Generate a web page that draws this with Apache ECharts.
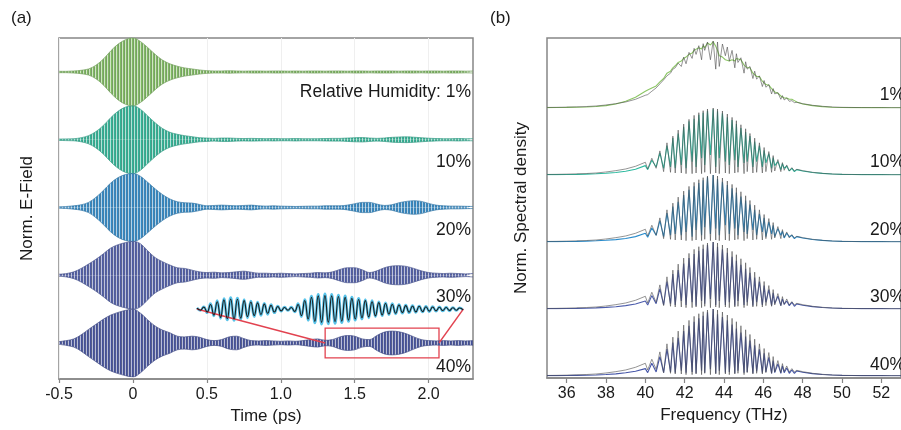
<!DOCTYPE html>
<html>
<head>
<meta charset="utf-8">
<script src="https://cdn.jsdelivr.net/npm/echarts@6/dist/echarts.min.js"></script>
<style>
html,body{margin:0;padding:0;background:#fff}
#chart{width:901px;height:430px}
</style>
</head>
<body>
<div id="chart"></div>
<script>
// ---------- Panel (a): THz E-field envelopes versus time ----------
const humidityLabels = ['Relative Humidity: 1%', '10%', '20%', '30%', '40%'];
const spectrumLabels = ['1%', '10%', '20%', '30%', '40%'];

const timeTicks = [-0.5, 0, 0.5, 1, 1.5, 2];
const timeTickLabels = ['-0.5', '0', '0.5', '1.0', '1.5', '2.0'];

const timePs = [
  -0.5, -0.45, -0.4, -0.35, -0.3, -0.25, -0.2, -0.15, -0.1, -0.05,
  0, 0.05, 0.1, 0.15, 0.2, 0.25, 0.3, 0.35, 0.4, 0.45,
  0.5, 0.55, 0.6, 0.65, 0.7, 0.75, 0.8, 0.85, 0.9, 0.95,
  1, 1.05, 1.1, 1.15, 1.2, 1.25, 1.3, 1.35, 1.4, 1.45,
  1.5, 1.55, 1.6, 1.65, 1.7, 1.75, 1.8, 1.85, 1.9, 1.95,
  2, 2.05, 2.1, 2.15, 2.2, 2.25, 2.3
];

// normalised oscillation envelope (peak amplitude) of each field trace
const envelopeRH1 = [
  .02, .02, .03, .05, .09, .2, .38, .62, .82, .95,
  1.0, .9, .72, .52, .35, .24, .17, .12, .09, .06,
  .04, .03, .03, .035, .03, .025, .03, .03, .025, .03,
  .03, .025, .03, .025, .03, .03, .025, .03, .03, .025,
  .03, .03, .025, .03, .03, .03, .025, .03, .03, .025,
  .03, .03, .025, .03, .03, .025, .03
];
const envelopeRH10 = [
  .02, .025, .03, .06, .12, .24, .42, .65, .84, .96,
  1.0, .9, .7, .5, .33, .22, .16, .12, .09, .06,
  .05, .04, .05, .05, .04, .035, .04, .035, .03, .035,
  .03, .03, .035, .03, .03, .03, .035, .04, .04, .05,
  .06, .065, .05, .04, .05, .07, .08, .085, .075, .06,
  .045, .035, .03, .03, .035, .03, .03
];
const envelopeRH20 = [
  .02, .03, .05, .08, .15, .3, .5, .72, .88, .97,
  1.0, .92, .74, .55, .38, .25, .17, .14, .13, .09,
  .05, .06, .07, .06, .05, .06, .07, .05, .04, .05,
  .04, .035, .03, .035, .04, .04, .05, .05, .05, .07,
  .11, .15, .15, .1, .06, .08, .14, .18, .2, .18,
  .12, .07, .05, .04, .04, .035, .03
];
const envelopeRH30 = [
  .03, .05, .1, .2, .33, .47, .63, .8, .9, .96,
  1.0, .93, .72, .52, .4, .3, .22, .2, .15, .1,
  .08, .09, .07, .08, .1, .12, .09, .06, .06, .05,
  .06, .05, .04, .05, .06, .08, .07, .1, .17, .22,
  .22, .16, .08, .13, .22, .27, .28, .26, .2, .13,
  .08, .06, .05, .06, .05, .04, .05
];
const envelopeRH40 = [
  .04, .07, .12, .24, .4, .55, .7, .82, .9, .96,
  1.0, .88, .68, .5, .38, .3, .2, .18, .2, .17,
  .1, .07, .1, .18, .2, .13, .07, .06, .07, .06,
  .05, .06, .05, .07, .1, .12, .08, .1, .18, .22,
  .2, .12, .1, .22, .32, .35, .33, .27, .18, .1,
  .07, .06, .07, .06, .07, .06, .07
];

// magnified echo window (1.3 - 2.07 ps of the 40 % trace), one value per half cycle
const insetMeasured = [
  .08, -.1, .15, -.25, .35, -.45, .55, -.62, .68, -.72,
  .75, -.75, .72, -.68, .62, -.58, .52, -.5, .45, -.42,
  .38, -.35, .3, -.25, .2, -.15, .12, -.1, .12, -.2,
  .35, -.5, .62, -.75, .85, -.92, .97, -1, 1, -.98,
  .97, -.95, .92, -.9, .86, -.82, .78, -.74, .7, -.66,
  .62, -.58, .55, -.5, .47, -.44, .4, -.37, .35, -.32,
  .3, -.28, .26, -.25, .23, -.22, .2, -.2, .18, -.17,
  .16, -.15, .14, -.13, .12, -.12, .1, -.1, .08, -.08
];
const insetFit = [
  .05, -.08, .12, -.2, .3, -.4, .48, -.55, .6, -.64,
  .66, -.66, .64, -.6, .55, -.5, .46, -.43, .4, -.36,
  .32, -.28, .24, -.2, .16, -.12, .1, -.08, .1, -.16,
  .3, -.44, .56, -.66, .76, -.82, .86, -.88, .88, -.87,
  .86, -.84, .82, -.8, .76, -.73, .7, -.66, .62, -.58,
  .55, -.52, .48, -.45, .42, -.39, .36, -.33, .3, -.28,
  .26, -.24, .22, -.21, .2, -.19, .18, -.17, .15, -.14,
  .13, -.12, .11, -.1, .1, -.09, .08, -.08, .07, -.06
];
const zoomWindowPs = [1.3, 2.07];

// ---------- Panel (b): normalised spectral density ----------
const freqTicks = [36, 38, 40, 42, 44, 46, 48, 50, 52];
// between 40 and 47.7 THz the grid alternates: absorption line, gap between lines, ...
const specFreqTHz = [
  35, 35.5, 36, 36.5, 37, 37.5, 38, 38.5, 39, 39.5,
  40, 40.12, 40.33, 40.55, 40.74, 40.93, 41.1, 41.28, 41.4, 41.52,
  41.67, 41.83, 41.95, 42.07, 42.22, 42.38, 42.48, 42.58, 42.72, 42.86,
  42.94, 43.02, 43.16, 43.31, 43.45, 43.58, 43.67, 43.76, 43.92, 44.07,
  44.17, 44.27, 44.41, 44.55, 44.63, 44.71, 44.86, 45.02, 45.1, 45.18,
  45.32, 45.47, 45.56, 45.66, 45.8, 45.95, 46.04, 46.13, 46.28, 46.42,
  46.5, 46.58, 46.74, 46.89, 46.97, 47.06, 47.19, 47.32, 47.45, 47.58,
  47.7, 48, 48.5, 49, 49.5, 50, 50.5, 51, 51.5, 52,
  52.5, 53
];
// calculated (grey) spectra
const specCalcRH1 = [
  .008, .01, .013, .017, .022, .03, .045, .065, .09, .13,
  .19, .2, .25, .3, .36, .42, .48, .52, .58, .6,
  .67, .62, .76, .66, .83, .74, .89, .8, .93, .72,
  .96, .86, .985, .72, 1.0, .58, .985, .62, .955, .78,
  .91, .7, .86, .6, .81, .68, .75, .52, .69, .58,
  .62, .44, .55, .43, .48, .32, .41, .31, .35, .21,
  .29, .21, .23, .13, .185, .12, .15, .1, .11, .08,
  .085, .065, .04, .025, .015, .01, .008, .006, .005, .005,
  .004, .004
];
const specCalcHumid = [
  .008, .01, .013, .017, .022, .03, .045, .065, .09, .13,
  .19, .09, .25, .1, .36, .05, .48, .04, .58, .03,
  .67, .03, .76, .02, .83, .02, .89, .03, .93, .02,
  .96, .04, .985, .02, 1.0, .03, .985, .02, .955, .03,
  .91, .02, .86, .03, .81, .04, .75, .02, .69, .05,
  .62, .03, .55, .04, .48, .03, .41, .05, .35, .04,
  .29, .06, .23, .05, .185, .07, .15, .06, .11, .06,
  .085, .065, .04, .025, .015, .01, .008, .006, .005, .005,
  .004, .004
];
// measured (coloured) spectra
const specMeasRH1 = [
  .006, .007, .009, .012, .016, .022, .035, .06, .1, .16,
  .25, .27, .3, .33, .39, .44, .52, .55, .6, .63,
  .68, .7, .74, .76, .8, .82, .86, .84, .9, .88,
  .93, .9, .97, .94, .99, .92, .86, .78, .76, .72,
  .74, .7, .72, .7, .74, .72, .72, .64, .66, .6,
  .6, .52, .53, .47, .47, .4, .4, .35, .34, .29,
  .28, .24, .22, .18, .18, .15, .15, .13, .13, .11,
  .09, .06, .035, .02, .012, .008, .006, .005, .005, .005,
  .004, .004
];
const specMeasRH10 = [
  .005, .006, .008, .01, .013, .018, .026, .038, .055, .085,
  .14, .08, .22, .12, .33, .1, .44, .12, .55, .1,
  .62, .15, .72, .1, .8, .2, .84, .12, .9, .25,
  .93, .15, .96, .3, .98, .12, .95, .25, .92, .2,
  .86, .15, .82, .22, .76, .12, .7, .18, .64, .2,
  .58, .12, .5, .2, .44, .12, .37, .18, .32, .1,
  .26, .14, .2, .08, .17, .1, .13, .06, .1, .05,
  .08, .06, .038, .024, .015, .01, .008, .006, .005, .005,
  .004, .004
];
const specMeasRH20 = [
  .005, .006, .008, .01, .013, .018, .025, .036, .052, .08,
  .13, .07, .21, .1, .32, .08, .43, .1, .53, .12,
  .6, .1, .7, .15, .78, .08, .83, .18, .88, .1,
  .92, .22, .97, .12, 1.0, .2, .94, .1, .9, .25,
  .85, .12, .8, .2, .74, .1, .68, .15, .62, .12,
  .56, .18, .48, .1, .42, .15, .36, .08, .3, .12,
  .25, .08, .2, .1, .16, .06, .13, .08, .1, .05,
  .08, .06, .038, .024, .015, .01, .008, .006, .005, .005,
  .004, .004
];
const specMeasRH30 = [
  .005, .006, .007, .009, .012, .017, .024, .034, .05, .075,
  .12, .06, .2, .08, .3, .06, .41, .08, .52, .06,
  .58, .12, .68, .06, .76, .1, .82, .05, .87, .12,
  .9, .08, .96, .15, 1.0, .06, .93, .12, .89, .06,
  .84, .1, .78, .05, .72, .12, .66, .06, .6, .1,
  .54, .05, .47, .1, .41, .06, .35, .1, .29, .05,
  .24, .08, .19, .05, .15, .07, .12, .05, .1, .04,
  .075, .055, .035, .022, .014, .01, .008, .006, .005, .005,
  .004, .004
];
const specMeasRH40 = [
  .005, .005, .007, .009, .011, .016, .022, .032, .048, .07,
  .11, .05, .19, .06, .29, .05, .4, .06, .5, .05,
  .57, .08, .67, .05, .75, .06, .81, .04, .86, .08,
  .9, .05, .95, .1, 1.0, .04, .92, .08, .88, .05,
  .83, .06, .77, .04, .71, .08, .65, .05, .59, .06,
  .53, .04, .46, .07, .4, .05, .34, .06, .28, .04,
  .23, .05, .18, .04, .15, .05, .12, .04, .09, .04,
  .075, .055, .035, .022, .014, .01, .008, .006, .005, .005,
  .004, .004
];

// ---------- styling ----------
const FONT = '"Liberation Sans", Arial, sans-serif';
const TEXT = '#1a1a1a';
const FRAME = '#868686';
const fieldColors = ['#80bc62', '#2fb597', '#3189c6', '#4e5ca6', '#44519c'];
const specColors = ['#8cc665', '#2fbaa0', '#2a8ccc', '#4c5cac', '#4656a8'];
const envelopes = [envelopeRH1, envelopeRH10, envelopeRH20, envelopeRH30, envelopeRH40];
const calcSpectra = [specCalcRH1, specCalcHumid, specCalcHumid, specCalcHumid, specCalcHumid];
const measSpectra = [specMeasRH1, specMeasRH10, specMeasRH20, specMeasRH30, specMeasRH40];

function hexToRgb(h) {
  const n = parseInt(h.slice(1), 16);
  return [(n >> 16) & 255, (n >> 8) & 255, n & 255];
}
function mix(a, b, t) {
  const p = hexToRgb(a), q = hexToRgb(b);
  const c = p.map((v, i) => Math.round(v * (1 - t) + q[i] * t));
  return 'rgb(' + c.join(',') + ')';
}
// dense carrier cycles are rendered as a fine vertical hatch inside the envelope
function hatch(hex) {
  const c = document.createElement('canvas');
  c.width = 3; c.height = 2;
  const g = c.getContext('2d');
  g.fillStyle = hex; g.fillRect(0, 0, 1, 2);
  g.fillStyle = mix(hex, '#6e6e6e', 0.4); g.fillRect(1, 0, 1, 2);
  g.fillStyle = mix(hex, '#ffffff', 0.62); g.fillRect(2, 0, 1, 2);
  return { image: c, repeat: 'repeat' };
}

// ---------- layout ----------
const A = { left: 59, top: 38, width: 414, height: 342 };
const B = { left: 547, top: 38, width: 366, height: 340 };
const traceAHeight = 68, traceAStep = 67.75;
const traceBTop = 41, traceBHeight = 67, traceBStep = 67;

const grids = [], xAxes = [], yAxes = [], series = [];

// 0: frame of panel (a)
grids.push({ left: A.left, top: A.top, width: A.width, height: A.height, show: true,
  borderColor: FRAME, borderWidth: 1.5, backgroundColor: 'transparent' });
xAxes.push({ gridIndex: 0, type: 'value', min: -0.5, max: 2.3, interval: 0.5,
  name: 'Time (ps)', nameLocation: 'middle', nameGap: 29,
  nameTextStyle: { fontSize: 17, fontFamily: FONT, color: TEXT },
  axisLine: { show: true, lineStyle: { color: FRAME, width: 1.5 } },
  axisTick: { show: true, customValues: timeTicks, length: 4, lineStyle: { color: FRAME, width: 1.2 } },
  axisLabel: { customValues: timeTicks, margin: 8, fontSize: 16, fontFamily: FONT, color: TEXT,
    formatter: v => timeTickLabels[timeTicks.findIndex(t => Math.abs(t - v) < 1e-9)] },
  splitLine: { show: true, lineStyle: { color: '#efefef', width: 1 } } });
yAxes.push({ gridIndex: 0, type: 'value', min: 0, max: 1, name: 'Norm. E-Field',
  nameLocation: 'middle', nameGap: 23,
  nameTextStyle: { fontSize: 17, fontFamily: FONT, color: TEXT },
  axisLine: { show: false }, axisTick: { show: false }, axisLabel: { show: false }, splitLine: { show: false } });

// 1-5: one strip per humidity in panel (a)
for (let k = 0; k < 5; k++) {
  const gi = grids.length;
  grids.push({ left: A.left, width: A.width, top: A.top + k * traceAStep, height: traceAHeight });
  xAxes.push({ gridIndex: gi, type: 'value', min: -0.5, max: 2.3, show: false });
  yAxes.push({ gridIndex: gi, type: 'value', min: -1, max: 1, show: false });
  const env = envelopes[k];
  const col = fieldColors[k];
  const common = {
    type: 'line', xAxisIndex: gi, yAxisIndex: gi, symbol: 'none', smooth: 0.35, silent: true,
    lineStyle: { color: mix(col, '#555555', 0.25), width: 0.9, opacity: 0.8 },
    areaStyle: { color: hatch(col), opacity: 1, origin: 'auto' }
  };
  const upper = Object.assign({}, common, { data: timePs.map((t, i) => [t, env[i]]) });
  const lower = Object.assign({}, common, { data: timePs.map((t, i) => [t, -env[i]]) });
  if (k === 4) {
    upper.markArea = { silent: true,
      itemStyle: { color: 'rgba(0,0,0,0)', borderColor: '#e2424f', borderWidth: 1.3 },
      data: [[{ coord: [zoomWindowPs[0], -0.44] }, { coord: [zoomWindowPs[1], 0.44] }]] };
    upper.markLine = { silent: true, symbol: 'none', label: { show: false },
      lineStyle: { color: '#e2424f', width: 1.3, type: 'solid' },
      data: [
        [{ coord: [0.432, 1.0] }, { coord: [zoomWindowPs[0], 0] }],
        [{ coord: [zoomWindowPs[1], 0] }, { coord: [2.235, 1.0] }]
      ] };
  }
  series.push(upper, lower);
}

// 6: magnified inset
grids.push({ left: 197, top: 293, width: 266, height: 32 });
xAxes.push({ gridIndex: 6, type: 'value', min: 0, max: insetMeasured.length - 1, show: false });
yAxes.push({ gridIndex: 6, type: 'value', min: -1.05, max: 1.05, show: false });
series.push({ type: 'line', xAxisIndex: 6, yAxisIndex: 6, symbol: 'none', smooth: 0.5, silent: true,
  data: insetMeasured.map((v, i) => [i, v]), lineStyle: { color: '#5ac4ea', width: 2.6 }, z: 4 });
series.push({ type: 'line', xAxisIndex: 6, yAxisIndex: 6, symbol: 'none', smooth: 0.5, silent: true,
  data: insetFit.map((v, i) => [i, v]), lineStyle: { color: '#1c1c1c', width: 1.1 }, z: 5 });

// 7: frame of panel (b)
grids.push({ left: B.left, top: B.top, width: B.width, height: B.height, show: true,
  borderColor: FRAME, borderWidth: 1.5, backgroundColor: 'transparent' });
xAxes.push({ gridIndex: 7, type: 'value', min: 35, max: 53,
  name: 'Frequency (THz)', nameLocation: 'middle', nameGap: 29,
  nameTextStyle: { fontSize: 17, fontFamily: FONT, color: TEXT },
  axisLine: { show: true, lineStyle: { color: FRAME, width: 1.5 } },
  axisTick: { show: true, customValues: freqTicks, length: 5, lineStyle: { color: FRAME, width: 1.2 } },
  axisLabel: { customValues: freqTicks, margin: 8, fontSize: 16, fontFamily: FONT, color: TEXT },
  splitLine: { show: false } });
yAxes.push({ gridIndex: 7, type: 'value', min: 0, max: 1, name: 'Norm. Spectral density',
  nameLocation: 'middle', nameGap: 17,
  nameTextStyle: { fontSize: 17, fontFamily: FONT, color: TEXT },
  axisLine: { show: false }, axisTick: { show: false }, axisLabel: { show: false }, splitLine: { show: false } });

// 8-12: one strip per humidity in panel (b)
for (let k = 0; k < 5; k++) {
  const gi = grids.length;
  grids.push({ left: B.left, width: B.width, top: traceBTop + k * traceBStep, height: traceBHeight });
  xAxes.push({ gridIndex: gi, type: 'value', min: 35, max: 53, show: false });
  yAxes.push({ gridIndex: gi, type: 'value', min: 0, max: 1, show: false });
  series.push({ type: 'line', xAxisIndex: gi, yAxisIndex: gi, symbol: 'none', silent: true,
    data: specFreqTHz.map((f, i) => [f, measSpectra[k][i]]),
    lineStyle: { color: specColors[k], width: 1.1 }, z: 2 });
  series.push({ type: 'line', xAxisIndex: gi, yAxisIndex: gi, symbol: 'none', silent: true,
    data: specFreqTHz.map((f, i) => [f, calcSpectra[k][i]]),
    lineStyle: { color: '#4e4e4e', width: 0.8, opacity: 0.75 }, z: 3 });
}

// ---------- text ----------
const labelFont = '17.5px ' + FONT;
const graphic = [
  { type: 'text', left: 11, top: 10, style: { text: '(a)', font: '17px ' + FONT, fill: TEXT } },
  { type: 'text', left: 490, top: 10, style: { text: '(b)', font: '17px ' + FONT, fill: TEXT } }
];
const aLabelY = [93, 163, 231, 298, 368];
const bLabelY = [96, 163, 231, 298, 366];
humidityLabels.forEach((t, k) => graphic.push({ type: 'text', right: 430, top: aLabelY[k] - 10,
  style: { text: t, font: labelFont, fill: TEXT }, z: 10 }));
spectrumLabels.forEach((t, k) => graphic.push({ type: 'text', right: -4, top: bLabelY[k] - 10,
  style: { text: t, font: labelFont, fill: TEXT }, z: 10 }));

const chart = echarts.init(document.getElementById('chart'), null, { renderer: 'canvas' });
chart.setOption({
  animation: false,
  backgroundColor: '#ffffff',
  grid: grids, xAxis: xAxes, yAxis: yAxes, series: series, graphic: graphic
});
</script>
</body>
</html>
